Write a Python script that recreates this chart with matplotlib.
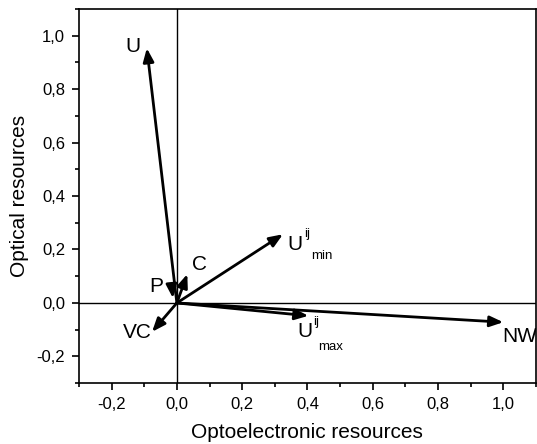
import matplotlib
matplotlib.use("Agg")
import matplotlib.pyplot as plt
from matplotlib.ticker import MultipleLocator, FuncFormatter

plt.rcParams['font.family'] = ['Liberation Sans', 'DejaVu Sans']

# vector names, tails and tips (resource coordinates)
names = ['U', 'Umin', 'C', 'P', 'VC', 'Umax', 'NW']
tail_x = [0.0, 0.0, 0.0, -0.016, 0.0, 0.0, 0.0]
tail_y = [0.0, 0.0, 0.0, 0.065, 0.0, 0.0, 0.0]
tip_x = [-0.092, 0.325, 0.032, -0.012, -0.076, 0.403, 1.0]
tip_y = [0.953, 0.257, 0.108, 0.018, -0.108, -0.048, -0.072]

# label anchors
lab_x = [-0.135, 0.363, 0.07, -0.064, -0.122, 0.391, 1.05]
lab_y = [0.96, 0.220, 0.145, 0.063, -0.112, -0.108, -0.127]
lab_main = ['U', 'U', 'C', 'P', 'VC', 'U', 'NW']
lab_sup = ['', 'ij', '', '', '', 'ij', '']
lab_sub = ['', 'min', '', '', '', 'max', '']

fig = plt.figure(figsize=(5.37, 4.44), dpi=100)
ax = fig.add_axes([0.147, 0.137, 0.851, 0.843])

ax.axhline(0, color='black', lw=1.0, zorder=1)
ax.axvline(0, color='black', lw=1.0, zorder=1)

for x0, y0, x1, y1 in zip(tail_x, tail_y, tip_x, tip_y):
    ax.annotate('', xy=(x1, y1), xytext=(x0, y0),
                arrowprops=dict(arrowstyle='-|>,head_length=0.5,head_width=0.2',
                                color='black', lw=2.0, mutation_scale=16,
                                shrinkA=0, shrinkB=0), zorder=3)

for x, y, m, sp, sb in zip(lab_x, lab_y, lab_main, lab_sup, lab_sub):
    ax.text(x, y, m, fontsize=15, ha='center', va='center', clip_on=True)
    if sp:
        ax.annotate(sp, xy=(x, y), xytext=(8.5, 7), textcoords='offset points',
                    fontsize=9.5, ha='center', va='center')
        dy = -8.5 if sb == 'min' else -11
        ax.annotate(sb, xy=(x, y), xytext=(19, dy), textcoords='offset points',
                    fontsize=9.5, ha='center', va='center')

ax.set_xlim(-0.3, 1.1)
ax.set_ylim(-0.3, 1.1)
ax.xaxis.set_major_locator(MultipleLocator(0.2))
ax.xaxis.set_minor_locator(MultipleLocator(0.1))
ax.yaxis.set_major_locator(MultipleLocator(0.2))
ax.yaxis.set_minor_locator(MultipleLocator(0.1))
fmt = FuncFormatter(lambda v, p: ('%.1f' % v).replace('.', ',').replace('-0,0', '0,0'))
ax.xaxis.set_major_formatter(fmt)
ax.yaxis.set_major_formatter(fmt)
ax.tick_params(which='major', direction='out', length=5, width=1.2, labelsize=12, pad=5)
ax.tick_params(which='minor', direction='out', length=3, width=1.2)
for s in ax.spines.values():
    s.set_linewidth(1.2)

ax.set_xlabel('Optoelectronic resources', fontsize=15, labelpad=8)
ax.set_ylabel('Optical resources', fontsize=15, labelpad=5)

fig.savefig('out.png', dpi=100)
